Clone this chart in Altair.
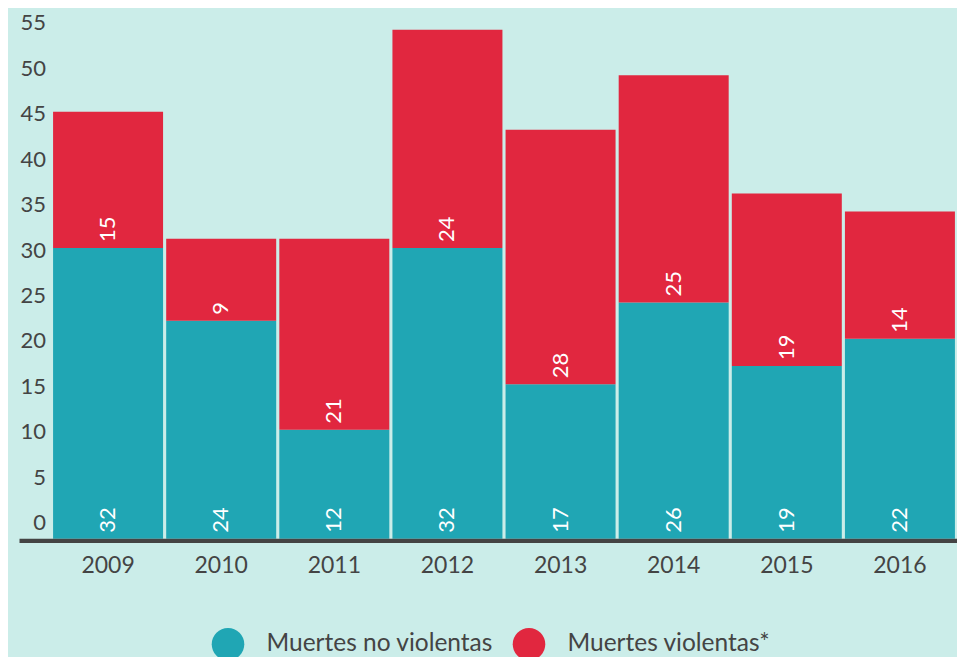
import altair as alt
import pandas as pd

years = ["2009", "2010", "2011", "2012", "2013", "2014", "2015", "2016"]
no_violentas = [32, 24, 12, 32, 17, 26, 19, 22]
violentas = [15, 9, 21, 24, 28, 25, 19, 14]
series_names = ["Muertes no violentas", "Muertes violentas*"]
colors = ["#20a6b4", "#e1273f"]
y_ticks = [0, 5, 10, 15, 20, 25, 30, 35, 40, 45, 50, 55]

rows = []
for yr, a, b in zip(years, no_violentas, violentas):
    rows.append({"year": yr, "serie": series_names[0], "value": a, "start": 0, "end": a})
    rows.append({"year": yr, "serie": series_names[1], "value": b, "start": a, "end": a + b})
df = pd.DataFrame(rows)

FONT = "Lato"
W = 905
H = 527

x_enc = alt.X("year:N", sort=years, title=None,
              scale=alt.Scale(paddingInner=0.027, paddingOuter=0.0135),
              axis=alt.Axis(domain=False, ticks=False, labelPadding=16, labelFontSize=23,
                            labelColor="#444444", labelFont=FONT, labelAngle=0))
y_scale = alt.Scale(domain=[0, 58], nice=False)

bars = alt.Chart(df).mark_bar(size=110).encode(
    x=x_enc,
    y=alt.Y("start:Q", scale=y_scale, title=None,
            axis=alt.Axis(values=y_ticks, domain=False, ticks=False, grid=False,
                          labelFontSize=22, labelColor="#444444", labelFont=FONT,
                          labelPadding=6, labelBaseline="middle", labelOffset=-16)),
    y2="end:Q",
    color=alt.Color("serie:N", sort=series_names,
                    scale=alt.Scale(domain=series_names, range=colors),
                    legend=alt.Legend(title=None, orient="none", direction="horizontal",
                                      legendX=160, legendY=616, symbolType="circle",
                                      symbolSize=1060, symbolStrokeWidth=0, symbolOpacity=1,
                                      labelFontSize=24.5, labelColor="#444444", labelFont=FONT,
                                      labelOffset=22, columnPadding=19, labelLimit=0,
                                      symbolLimit=0)),
)

labels = alt.Chart(df).mark_text(angle=270, align="left", baseline="middle", dx=6,
                                 fontSize=22, color="white", font=FONT).encode(
    x=alt.X("year:N", sort=years),
    y=alt.Y("start:Q", scale=y_scale),
    text="value:Q",
)

axis_line = alt.Chart(pd.DataFrame({"a": [0]})).mark_rule(color="#444444", strokeWidth=4.4).encode(
    x=alt.value(-32), x2=alt.value(W + 5), y=alt.value(H + 2.2)
)

chart = alt.layer(bars, labels, axis_line).properties(
    width=W, height=H,
    background="#cbede9",
    padding={"left": 43.5, "top": 3.7, "right": 0, "bottom": 118},
    autosize=alt.AutoSizeParams(type="none"),
).configure_view(stroke=None)

chart.save("out.html", embed_options={"renderer": "svg", "actions": False})
